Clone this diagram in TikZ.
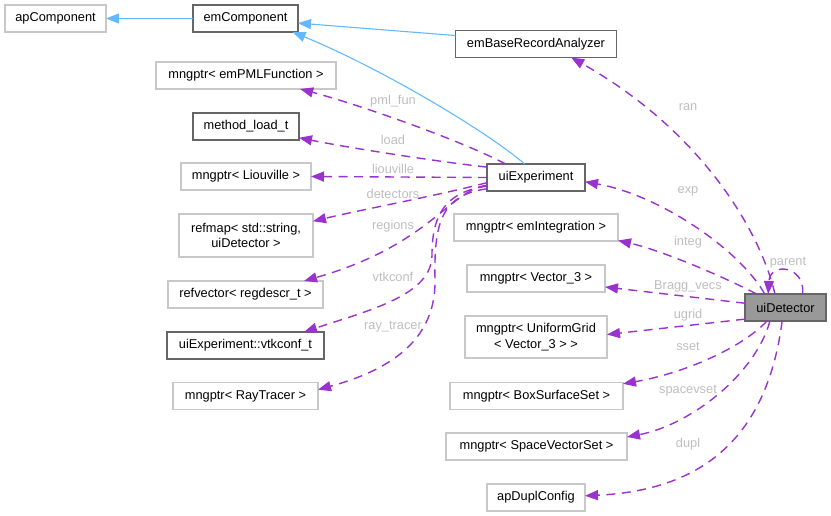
\documentclass[tikz,border=0pt]{standalone}
\usepackage{fontspec}
\setmainfont{Liberation Sans}
\usetikzlibrary{arrows.meta}
\definecolor{cInh} {HTML}{63B8FF}
\definecolor{cUse} {HTML}{9A32CD}
\definecolor{cLite}{HTML}{C8C8C8}
\definecolor{cDark}{HTML}{666666}
\definecolor{cCur} {HTML}{999999}
\definecolor{cLbl} {HTML}{BEBEBE}
\tikzset{
  cls/.style  ={draw=cLite,fill=white,line width=1.3pt,inner sep=0pt,align=center,
                minimum height=27pt,font=\fontsize{12.8}{15.5}\selectfont},
  clsd/.style ={cls,draw=cDark},
  cur/.style  ={cls,draw=cDark,fill=cCur},
  inh/.style  ={-{Triangle[length=13pt,width=10pt]},draw=cInh,line width=1.1pt},
  use/.style  ={-{Triangle[length=13pt,width=10pt]},draw=cUse,line width=1.4pt,
                dash pattern=on 9pt off 6.5pt},
  elbl/.style ={font=\fontsize{12.8}{15}\selectfont,text=cLbl,inner sep=0pt},
}

\begin{document}
\begin{tikzpicture}[x=1pt,y=-1pt,every node/.style={outer sep=0pt}]
\useasboundingbox (0,0) rectangle (831,516);

% base classes
\node[cls,minimum width=101pt]  (apc) at (55.5,18.5)  {apComponent};
\node[clsd,minimum width=105pt] (emc) at (245.5,18.5) {emComponent};
\node[clsd,minimum width=161pt] (emb) at (536,44)     {emBaseRecordAnalyzer};

% members of uiExperiment
\node[cls,minimum width=180pt]  (pml)  at (246,75.5)   {mngptr< emPMLFunction >};
\node[clsd,minimum width=106pt] (mlt)  at (246,126.5)  {method\_load\_t};
\node[cls,minimum width=130pt]  (liou) at (246,176.5)  {mngptr< Liouville >};
\node[cls,minimum width=134pt,minimum height=43pt]
                                (rmap) at (246,235.5)  {refmap< std::string,\\uiDetector >};
\node[cls,minimum width=155pt]  (rvec) at (245.5,294.5) {refvector< regdescr\_t >};
\node[clsd,minimum width=157pt] (vtk)  at (245.5,345.5) {uiExperiment::vtkconf\_t};
\node[cls,minimum width=145pt]  (rayt) at (245.5,396)   {mngptr< RayTracer >};

% middle column
\node[clsd,minimum width=98pt]  (uie)   at (536,177.5) {uiExperiment};
\node[cls,minimum width=164pt]  (integ) at (536,227.5) {mngptr< emIntegration >};
\node[cls,minimum width=138pt]  (vec3)  at (536,278.5) {mngptr< Vector\_3 >};
\node[cls,minimum width=142pt,minimum height=42pt]
                                (ugrid) at (536,337)   {mngptr< UniformGrid\\< Vector\_3 > >};
\node[cls,minimum width=173pt]  (bss)   at (536.5,396) {mngptr< BoxSurfaceSet >};
\node[cls,minimum width=181pt]  (svs)   at (536.5,446.5) {mngptr< SpaceVectorSet >};
\node[cls,minimum width=98pt]   (dupl)  at (536,497.5) {apDuplConfig};

\node[cur,minimum width=81pt]   (udet)  at (785.5,307.5) {uiDetector};

% inheritance
\draw[inh] (emc.west) -- (apc.east);
\draw[inh] (emb.174) -- (emc.-5);
\draw[inh] (uie.130) .. controls (485,130) and (380,68) .. (emc.-16);

% uiExperiment members
\draw[use] (uie.156) .. controls (460,140) and (360,105) .. (pml.-14);
\draw[use] (uie.168) .. controls (440,162) and (350,148) .. (mlt.-12);
\draw[use] (uie.west) -- (liou.east);
\draw[use] (uie.186) .. controls (440,195) and (360,210) .. (rmap.12);
\draw[use] (uie.189) .. controls (450,190) and (430,245) .. (rvec.13);
\draw[use] (uie.190) .. controls (445,192) and (432,215) .. (432,255)
                     .. controls (432,295) and (370,310) .. (vtk.13);
\draw[use] (uie.193) .. controls (440,195) and (434,225) .. (435,280)
                     .. controls (436,340) and (390,370) .. (rayt.5);

% uiDetector members
\draw[use] (udet.128) .. controls (760,230) and (700,130) .. (emb.-21);
\draw[use] (udet.147) .. controls (740,250) and (660,195) .. (uie.-5);
\draw[use] (udet.155) .. controls (720,275) and (660,250) .. (integ.-9);
\draw[use] (udet.174) -- (vec3.-7);
\draw[use] (udet.196) -- (ugrid.2);
\draw[use] (udet.216) .. controls (745,345) and (690,372) .. (bss.8.5);
\draw[use] (udet.221) .. controls (755,375) and (690,425) .. (svs.6);
\draw[use] (udet.256) .. controls (768,430) and (710,490) .. (dupl.2);
\draw[use] (udet.38) .. controls (805,265) and (770,262) .. (udet.142);

% edge labels
\foreach \n/\y/\t in {lpml/101/pml\_fun, lload/140/load, lliou/169/liouville,
                      ldet/194/detectors, lreg/226/regions, lvtk/277/vtkconf,
                      lray/327/ray\_tracer}{
  \node[elbl] (\n) at (393,\y) {\t};
}
\foreach \n/\y/\t in {lran/107/ran, lexp/191/exp, lint/242/integ,
                      lbrg/286/Bragg\_vecs, lugr/315/ugrid, lsset/346/sset,
                      lsvs/391/spacevset, ldupl/444/dupl}{
  \node[elbl] (\n) at (688,\y) {\t};
}
\node[elbl] (lpar) at (788,263) {parent};
\end{tikzpicture}
\end{document}
